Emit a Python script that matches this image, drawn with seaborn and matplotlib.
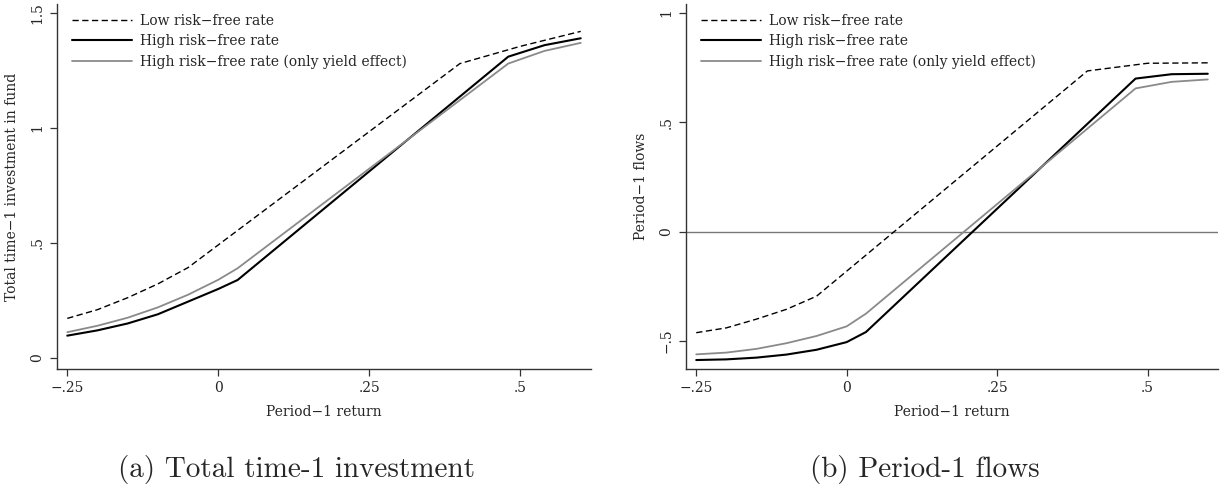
import matplotlib
matplotlib.use("Agg")
import matplotlib.pyplot as plt
import numpy as np
import pandas as pd
import seaborn as sns

# values
ret_low = [-0.25, -0.2, -0.15, -0.1, -0.05, 0.4, 0.5, 0.6]
ret_high = [-0.25, -0.2, -0.15, -0.1, -0.05, 0.0, 0.032, 0.48, 0.54, 0.6]

inv_low = [0.172, 0.21, 0.262, 0.322, 0.393, 1.28, 1.355, 1.42]
inv_high = [0.097, 0.12, 0.15, 0.19, 0.245, 0.30, 0.339, 1.31, 1.36, 1.39]
inv_yield = [0.112, 0.14, 0.175, 0.22, 0.275, 0.34, 0.39, 1.28, 1.335, 1.37]

flow_low = [-0.462, -0.44, -0.40, -0.355, -0.295, 0.735, 0.77, 0.772]
flow_high = [-0.587, -0.584, -0.576, -0.562, -0.54, -0.505, -0.459, 0.70, 0.72, 0.722]
flow_yield = [-0.561, -0.553, -0.536, -0.51, -0.477, -0.433, -0.375, 0.655, 0.685, 0.696]

labels = ["Low risk\u2212free rate", "High risk\u2212free rate",
          "High risk\u2212free rate (only yield effect)"]
xticks = [-0.25, 0, 0.25, 0.5]
xticklabels = ["\u2212.25", "0", ".25", ".5"]

sns.set_style("ticks")
plt.rcParams["font.family"] = ["DejaVu Serif"]

fig = plt.figure(figsize=(12.25, 4.88), dpi=100)
ax1 = fig.add_axes([57 / 1225, 1 - 369 / 488, 534 / 1225, 365 / 488])
ax2 = fig.add_axes([686 / 1225, 1 - 369 / 488, 532 / 1225, 365 / 488])


def draw(ax, lo, hi, yl):
    sns.lineplot(x=ret_low, y=lo, ax=ax, color="black", lw=1.0,
                 linestyle=(0, (4.5, 2.5)), label=labels[0], errorbar=None)
    sns.lineplot(x=ret_high, y=hi, ax=ax, color="black", lw=1.5,
                 label=labels[1], errorbar=None)
    sns.lineplot(x=ret_high, y=yl, ax=ax, color="#8a8a8a", lw=1.3,
                 label=labels[2], errorbar=None)
    ax.set_xticks(xticks)
    ax.set_xticklabels(xticklabels)
    ax.set_xlim(-0.267, 0.617)
    ax.set_xlabel("Period\u22121 return", fontsize=10, labelpad=7)
    for s in ["top", "right"]:
        ax.spines[s].set_visible(False)
    for s in ["left", "bottom"]:
        ax.spines[s].set_color("#333333")
        ax.spines[s].set_linewidth(1.0)
    ax.tick_params(length=5, width=0.9, color="#333333", labelsize=10, pad=4)
    ax.legend(loc="upper left", frameon=False, fontsize=10, handlelength=4.3,
              handletextpad=0.6, labelspacing=0.45, borderaxespad=0.3,
              bbox_to_anchor=(0.01, 1.0))
    ax.grid(False)


draw(ax1, inv_low, inv_high, inv_yield)
ax1.set_ylim(-0.048, 1.539)
ax1.set_yticks([0, 0.5, 1, 1.5])
ax1.set_yticklabels(["0", ".5", "1", "1.5"], rotation=90, va="center")
ax1.set_ylabel("Total time\u22121 investment in fund", fontsize=10, labelpad=8)

draw(ax2, flow_low, flow_high, flow_yield)
ax2.axhline(0, color="#777777", lw=1.0, zorder=0)
ax2.set_ylim(-0.628, 1.041)
ax2.set_yticks([-0.5, 0, 0.5, 1])
ax2.set_yticklabels(["\u2212.5", "0", ".5", "1"], rotation=90, va="center")
ax2.set_ylabel("Period\u22121 flows", fontsize=10, labelpad=8)

fig.text(297 / 1225, 1 - 470 / 488, "(a) Total time-1 investment",
         family="cmr10", fontsize=21, ha="center", va="center")
fig.text(925 / 1225, 1 - 470 / 488, "(b) Period-1 flows",
         family="cmr10", fontsize=21, ha="center", va="center")

fig.savefig("out.png", dpi=100)
